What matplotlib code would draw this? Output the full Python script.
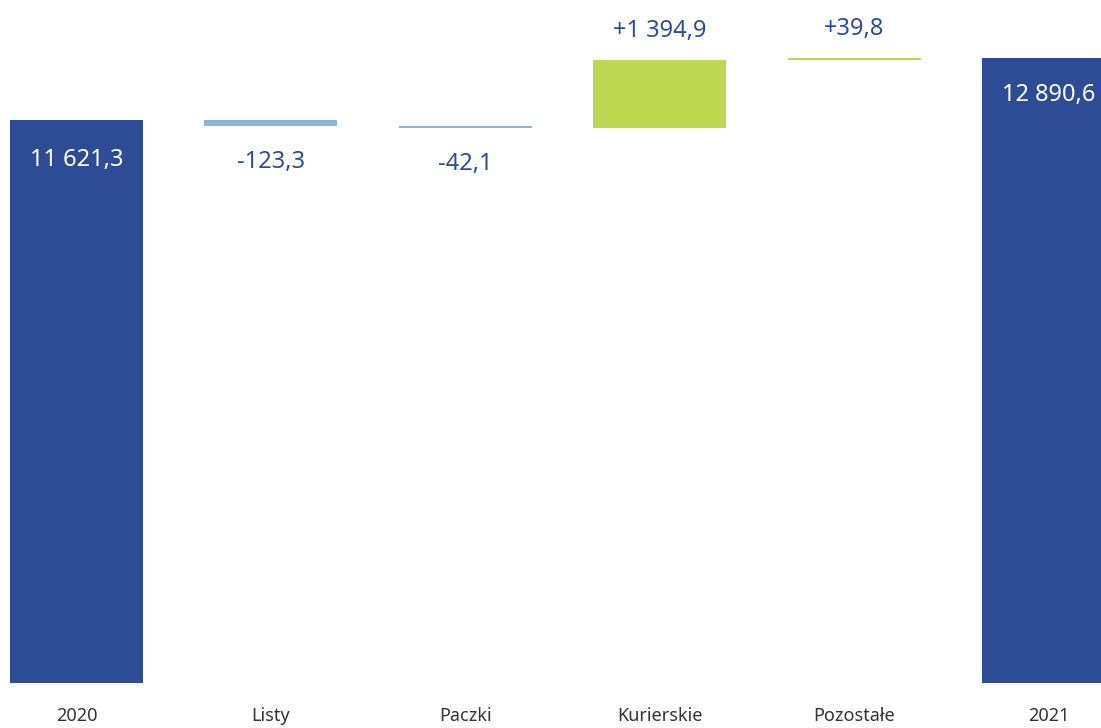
import matplotlib.pyplot as plt

plt.rcParams['font.family'] = ['Noto Sans', 'DejaVu Sans']

categories = ["2020", "Listy", "Paczki", "Kurierskie", "Pozostałe", "2021"]
start_total = 11621.3
deltas = [-123.3, -42.1, 1394.9, 39.8]
end_total = 12890.6
labels = ["11 621,3", "-123,3", "-42,1", "+1 394,9", "+39,8", "12 890,6"]

dark = "#2E4C96"
light = "#8DB0DE"
green = "#BED751"

fig = plt.figure(figsize=(11.01, 7.28), dpi=100)
ax = fig.add_axes([0, 45 / 728, 1, 683 / 728])

x = list(range(len(categories)))
w = 0.685

# totals
ax.bar(x[0], start_total, width=w, color=dark)
ax.bar(x[-1], end_total, width=w, color=dark)
ax.annotate(labels[0], (x[0], start_total), xytext=(0, -40), textcoords="offset pixels",
            ha="center", va="center", color="white", fontsize=17)
ax.annotate(labels[-1], (x[-1], end_total), xytext=(0, -37), textcoords="offset pixels",
            ha="center", va="center", color="white", fontsize=17)

# steps
level = start_total
for i, d in enumerate(deltas):
    pos = x[i + 1]
    bottom = level + d if d < 0 else level
    col = light if d < 0 else green
    ax.bar(pos, abs(d), bottom=bottom, width=w, color=col)
    if d < 0:
        ax.annotate(labels[i + 1], (pos, bottom), xytext=(0, -36), textcoords="offset pixels",
                    ha="center", va="center", color=dark, fontsize=17)
    else:
        ax.annotate(labels[i + 1], (pos, level + d), xytext=(0, 29), textcoords="offset pixels",
                    ha="center", va="center", color=dark, fontsize=17)
    level += d

ax.set_xlim(-76.5 / 194.4, (1101 - 76.5) / 194.4)
ax.set_ylim(0, 683 / 0.04845)
ax.set_xticks(x)
ax.set_xticklabels(categories, fontsize=13, color="#333333")
ax.tick_params(axis="x", length=0, pad=17)
ax.set_yticks([])
for s in ax.spines.values():
    s.set_visible(False)

fig.savefig("out.png", dpi=100)
